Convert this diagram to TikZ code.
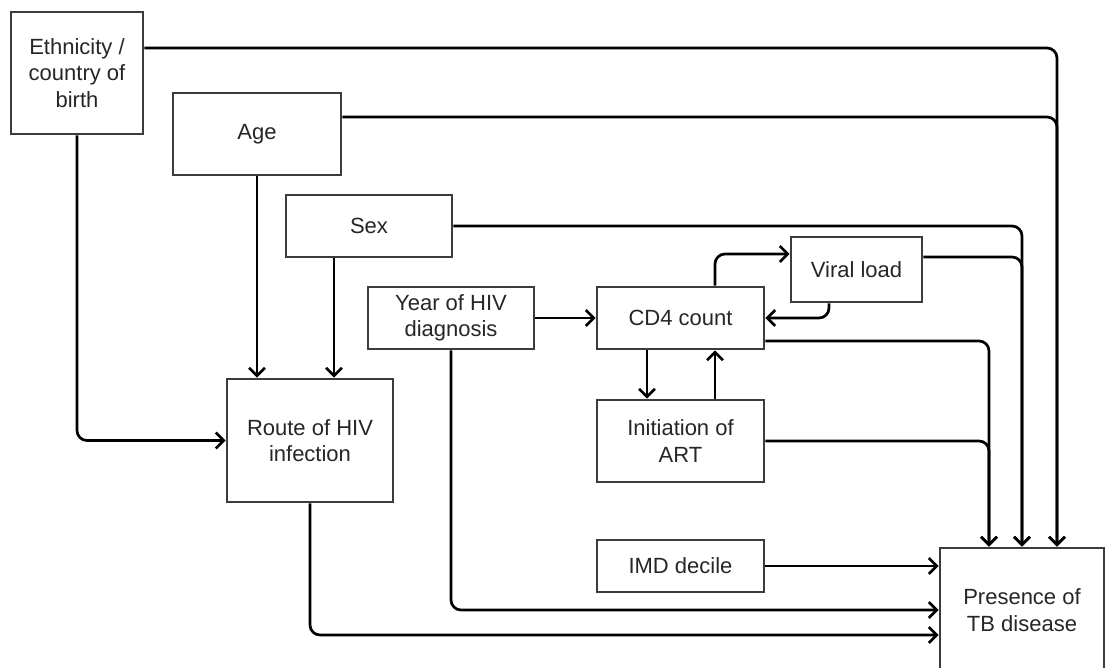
\documentclass[tikz,border=0pt]{standalone}
\usepackage{fontspec}
\setmainfont{Liberation Sans}
\usetikzlibrary{arrows.meta}
\definecolor{ink}{HTML}{262626}
\definecolor{frame}{HTML}{3C3C3C}
\tikzset{>={Straight Barb[length=4pt,width=8pt]},box/.style={draw=frame,line width=1.3pt,fill=white,align=center,inner sep=2pt,text=ink,font=\fontsize{11}{13.2}\selectfont},arr/.style={->,line width=1.35pt,rounded corners=5pt}}
\begin{document}
\begin{tikzpicture}[x=0.5pt,y=-0.5pt]
\useasboundingbox (0,0) rectangle (1105,668);
\node[box,minimum width=66pt,minimum height=61pt] (eth) at (77,73) {Ethnicity /\\country of\\birth};
\node[box,minimum width=84pt,minimum height=41pt] (age) at (257,134) {Age};
\node[box,minimum width=83pt,minimum height=31pt] (sex) at (369,226) {Sex};
\node[box,minimum width=83pt,minimum height=31pt] (year) at (451,318) {Year of HIV\\diagnosis};
\node[box,minimum width=83.5pt,minimum height=31pt] (cd4) at (680.5,318) {CD4 count};
\node[box,minimum width=65.5pt,minimum height=32.5pt] (viral) at (856.5,269.5) {Viral load};
\node[box,minimum width=83.5pt,minimum height=41pt] (art) at (680.5,441) {Initiation of\\ART};
\node[box,minimum width=83.5pt,minimum height=26pt] (imd) at (680.5,566) {IMD decile};
\node[box,minimum width=83pt,minimum height=61.5pt] (route) at (310,440.5) {Route of HIV\\infection};
\node[box,minimum width=82pt,minimum height=62pt] (tb) at (1022,610) {Presence of\\TB disease};
\draw[arr] ([yshift=12.5pt]eth.east) -| ([xshift=17.5pt]tb.north);
\draw[arr] ([yshift=8.5pt]age.east) -| ([xshift=17.5pt]tb.north);
\draw[arr] (sex.east) -| (tb.north);
\draw[arr] ([yshift=6.25pt]viral.east) -| (tb.north);
\draw[arr] ([yshift=-11.5pt]cd4.east) -| ([xshift=-16.5pt]tb.north);
\draw[arr] (art.east) -| ([xshift=-16.5pt]tb.north);
\draw[arr] (imd.east) -- (imd.east -| tb.west);
\draw[arr] (year.south) |- (tb.west);
\draw[arr] (route.south) |- ([yshift=-12.5pt]tb.west);
\draw[arr] (eth.south) |- (route.west);
\draw[arr] (age.south) -- (age.south |- route.north);
\draw[arr] ([xshift=-17.5pt]sex.south) -- ([xshift=-17.5pt]sex.south |- route.north);
\draw[arr] (year.east) -- (cd4.west);
\draw[arr] ([xshift=17.25pt]cd4.north) |- ([yshift=7.75pt]viral.west);
\draw[arr] ([xshift=-13.75pt]viral.south) |- (cd4.east);
\draw[arr] ([xshift=-16.75pt]cd4.south) -- ([xshift=-16.75pt]cd4.south |- art.north);
\draw[arr] ([xshift=17.25pt]art.north) -- ([xshift=17.25pt]art.north |- cd4.south);
\end{tikzpicture}
\end{document}
